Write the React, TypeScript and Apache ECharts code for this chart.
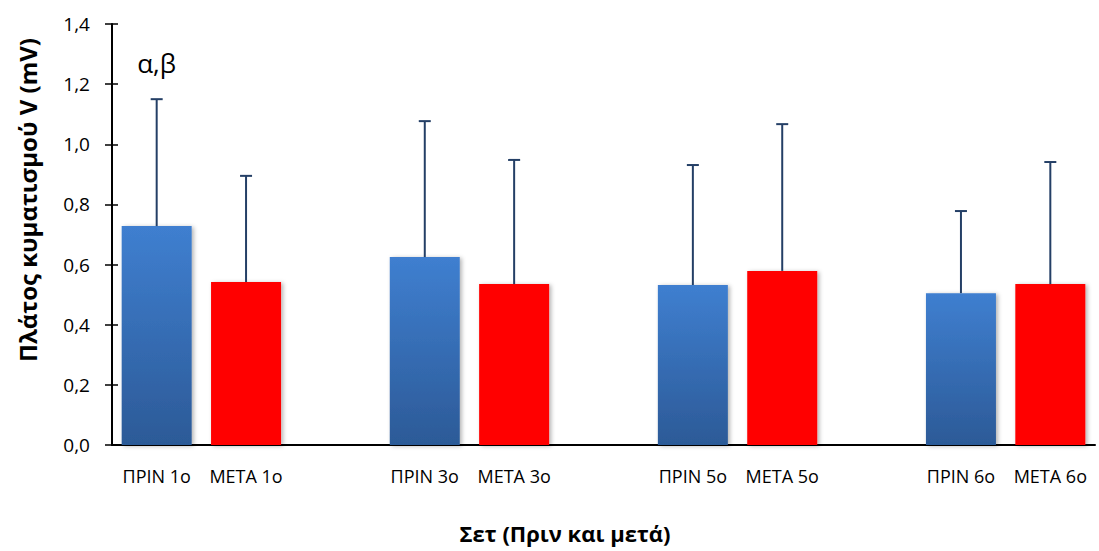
import React, { useEffect, useRef } from "react";
import * as echarts from "echarts";

const categories = ["ΠΡΙΝ 1ο", "ΜΕΤΑ 1ο", "", "ΠΡΙΝ 3ο", "ΜΕΤΑ 3ο", "", "ΠΡΙΝ 5ο", "ΜΕΤΑ 5ο", "", "ΠΡΙΝ 6ο", "ΜΕΤΑ 6ο"];
const kinds = ["before", "after", null, "before", "after", null, "before", "after", null, "before", "after"];
const means = [0.728, 0.542, null, 0.625, 0.535, null, 0.532, 0.579, null, 0.505, 0.535];
const upperBounds = [1.15, 0.895, null, 1.077, 0.948, null, 0.931, 1.067, null, 0.778, 0.941];
const annotations = ["α,β", "", "", "", "", "", "", "", "", "", ""];
const yTicks = { min: 0, max: 1.4, interval: 0.2 };
const yTitle = "Πλάτος κυματισμού V (mV)";
const xTitle = "Σετ (Πριν και μετά)";

const FONT = "'Open Sans', 'Noto Sans', sans-serif";

export default function App() {
  const ref = useRef<HTMLDivElement>(null);
  useEffect(() => {
    if (!ref.current) return;
    const chart = echarts.init(ref.current, undefined, { renderer: "svg" });
    const blue = new echarts.graphic.LinearGradient(0, 0, 0, 1, [
      { offset: 0, color: "#3f7fd0" },
      { offset: 1, color: "#2c5a97" },
    ]);
    const barData = means.map((v, i) =>
      v == null
        ? null
        : {
            value: v,
            itemStyle: {
              color: kinds[i] === "before" ? blue : "#ff0000",
              shadowBlur: 4,
              shadowColor: "rgba(0,0,0,0.3)",
              shadowOffsetX: 2,
              shadowOffsetY: 1,
            },
          }
    );
    const errData = means
      .map((v, i) => (v == null ? null : [i, v, upperBounds[i] as number]))
      .filter((d) => d != null);

    chart.setOption({
      animation: false,
      grid: { left: 112, right: 4, top: 24, bottom: 106, containLabel: false },
      xAxis: {
        type: "category",
        data: categories,
        axisLine: { lineStyle: { color: "#000", width: 2 } },
        axisTick: { show: false },
        axisLabel: { interval: 0, color: "#000", fontFamily: FONT, fontSize: 18, margin: 22 },
        splitLine: { show: false },
      },
      yAxis: [
        {
          type: "value",
          min: yTicks.min,
          max: yTicks.max,
          interval: yTicks.interval,
          axisLine: { show: true, lineStyle: { color: "#000", width: 2 } },
          axisTick: { show: true, length: 7, lineStyle: { color: "#000", width: 1.5 } },
          axisLabel: {
            color: "#000",
            fontFamily: FONT,
            fontSize: 19,
            margin: 22,
            formatter: (v: number) => v.toFixed(1).replace(".", ","),
          },
          splitLine: { show: false },
        },
        {
          type: "value",
          position: "left",
          min: yTicks.min,
          max: yTicks.max,
          interval: yTicks.interval,
          axisLine: { show: false },
          axisTick: { show: true, inside: true, length: 6, lineStyle: { color: "#000", width: 1.5 } },
          axisLabel: { show: false },
          splitLine: { show: false },
        },
      ],
      graphic: [
        {
          type: "text",
          x: 27,
          y: 200,
          rotation: Math.PI / 2,
          style: {
            text: yTitle,
            fontFamily: FONT,
            fontWeight: "bold",
            fontSize: 24,
            fill: "#000",
            align: "center",
            verticalAlign: "middle",
          },
        },
        {
          type: "text",
          x: 565,
          y: 533,
          style: {
            text: xTitle,
            fontFamily: FONT,
            fontWeight: "bold",
            fontSize: 22,
            fill: "#000",
            align: "center",
            verticalAlign: "middle",
          },
        },
      ],
      series: [
        {
          type: "bar",
          data: barData,
          barWidth: 70,
          z: 2,
        },
        {
          type: "custom",
          data: errData,
          z: 3,
          encode: { x: 0, y: [1, 2] },
          renderItem: (params: any, api: any) => {
            const idx = api.value(0);
            const lo = api.coord([idx, api.value(1)]);
            const hi = api.coord([idx, api.value(2)]);
            const capHalf = 6;
            const style = { stroke: "#243f66", lineWidth: 2 };
            const children: any[] = [
              { type: "line", shape: { x1: lo[0], y1: lo[1], x2: hi[0], y2: hi[1] }, style },
              { type: "line", shape: { x1: hi[0] - capHalf, y1: hi[1], x2: hi[0] + capHalf, y2: hi[1] }, style },
            ];
            const note = annotations[idx];
            if (note) {
              children.push({
                type: "text",
                x: hi[0],
                y: hi[1] - 36,
                style: {
                  text: note,
                  fontFamily: FONT,
                  fontSize: 26,
                  fill: "#000",
                  align: "center",
                  verticalAlign: "middle",
                },
              });
            }
            return { type: "group", children };
          },
        },
      ],
    });
    return () => chart.dispose();
  }, []);
  return <div ref={ref} style={{ width: 1099, height: 551, position: "absolute", left: 0, top: 0 }} />;
}
